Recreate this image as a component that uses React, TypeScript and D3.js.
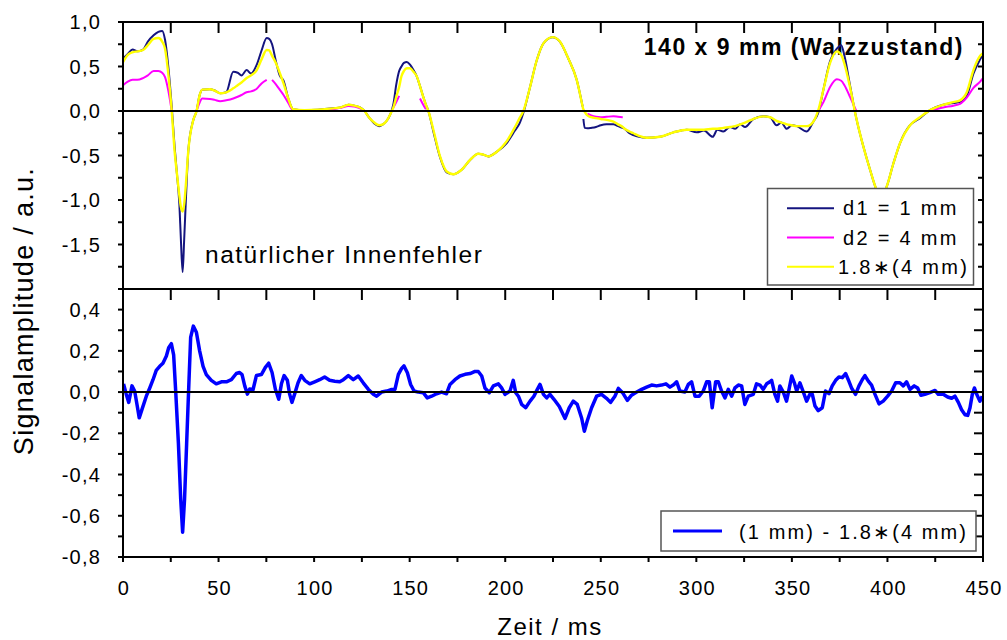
import React from 'react';
import * as d3 from 'd3';

// ---------- data ----------
const TOP_T = [
  0, 2.5, 5, 7.5, 10.5, 13, 16, 18.5, 20.5, 22,
  23.7, 25.5, 27, 28.2, 29.5, 30.3, 31.2, 32, 33, 34.2,
  36.8, 38.5, 40, 41.5, 45.5, 48, 50.8, 54, 57.7, 60,
  62, 64.7, 67, 70, 72.5, 75.2, 76.5, 78, 80, 82,
  84, 86.5, 89, 95, 102, 110, 114, 118, 121, 124,
  126, 129, 131.5, 134, 136, 138, 140, 141.5, 143, 144.5,
  145.7, 147, 148.5, 150.2, 152, 153.7, 155.4, 157.1, 158.5, 159.8,
  162.4, 165.9, 169.4, 172.8, 177.2, 181.6, 185.9, 188.5, 191.2, 195.5,
  200.8, 205.1, 207.5, 209.5, 213, 216.5, 220, 224.8, 228.6, 233,
  237.4, 240.5, 240.7, 240.9, 241.6, 243, 245, 247.5, 250, 253,
  256.6, 259, 261.5, 262.5, 265, 267, 270, 274, 281, 288,
  295, 300.2, 304, 308.6, 311, 314.1, 317.6, 320.3, 323, 325.5,
  329.8, 335, 338.6, 342, 344.5, 347.3, 350, 352.5, 357.8, 361.2,
  363.8, 366.5, 370, 373.5, 375.8, 377.5, 380.4, 383.7, 387.4, 390.9,
  394.4, 397, 399.6, 403.1, 406.6, 411.8, 417, 422.3, 429.2, 434.5,
  438, 441.5, 445, 448.5, 450,
];

// d1 = 1 mm
const D1_1MM: (number | null)[] = [
  0.59, 0.64, 0.69, 0.67, 0.69, 0.78, 0.85, 0.89, 0.90, 0.80,
  0.50, 0.05, -0.40, -0.70, -1.05, -1.45, -1.81, -1.45, -0.95, -0.44,
  -0.10, 0.0, 0.17, 0.24, 0.245, 0.23, 0.20, 0.21, 0.44, 0.43,
  0.40, 0.46, 0.42, 0.52, 0.68, 0.82, 0.81, 0.75, 0.56, 0.40,
  0.34, 0.14, 0.02, 0.01, 0.015, 0.03, 0.04, 0.07, 0.06, 0.04,
  0.01, -0.08, -0.14, -0.17, -0.15, -0.11, -0.03, 0.08, 0.30, 0.45,
  0.50, 0.54, 0.55, 0.52, 0.46, 0.39, 0.28, 0.16, 0.07, 0.0,
  -0.23, -0.52, -0.69, -0.71, -0.66, -0.55, -0.48, -0.49, -0.51, -0.46,
  -0.36, -0.22, -0.14, -0.02, 0.27, 0.57, 0.76, 0.83, 0.78, 0.59,
  0.35, 0.05, null, -0.09, -0.19, -0.195, -0.19, -0.18, -0.16, -0.15,
  -0.15, -0.17, -0.19, -0.20, -0.25, -0.27, -0.29, -0.30, -0.29, -0.24,
  -0.21, -0.24, -0.22, -0.29, -0.21, -0.23, -0.18, -0.20, -0.15, -0.18,
  -0.09, -0.06, -0.07, -0.16, -0.13, -0.20, -0.16, -0.17, -0.23, -0.12,
  -0.02, 0.24, 0.56, 0.70, 0.74, 0.62, 0.29, -0.08, -0.40, -0.66,
  -0.89, -0.97, -0.85, -0.59, -0.36, -0.16, -0.08, 0.01, 0.07, 0.09,
  0.10, 0.17, 0.42, 0.58, 0.64,
];

// d2 = 4 mm (only the visible stretches)
const D2_4MM: (number | null)[] = [
  0.29, 0.33, 0.35, 0.35, 0.37, 0.40, 0.45, 0.45, 0.43, 0.38,
  0.23, 0.0, null, null, null, null, null, null, null, null,
  null, 0.0, 0.09, 0.14, 0.135, 0.125, 0.11, 0.12, 0.14, 0.16,
  0.18, 0.21, 0.22, 0.25, 0.31, 0.35, null, 0.35, 0.30, 0.24,
  0.18, 0.09, 0.01, 0.005, 0.01, 0.02, 0.035, 0.055, 0.05, 0.03,
  0.005, null, null, null, null, null, null, 0.04, 0.10, 0.17,
  null, null, null, null, null, null, 0.14, 0.07, 0.02, null,
  null, null, null, null, null, null, null, null, null, null,
  null, null, null, null, null, null, null, null, null, null,
  null, null, null, null, null, -0.03, -0.05, -0.065, -0.07, -0.065,
  -0.06, -0.065, -0.07, null, null, null, null, null, null, null,
  null, null, null, null, null, null, null, null, null, null,
  null, null, null, null, null, null, null, null, null, null,
  0.0, 0.10, 0.27, 0.356, 0.34, 0.29, 0.16, 0.0, null, null,
  null, null, null, null, null, null, null, 0.0, 0.04, 0.06,
  0.08, 0.15, 0.26, 0.33, 0.37,
];

// 1.8*(4 mm)
const D2_SCALED: (number | null)[] = [
  0.55, 0.63, 0.66, 0.67, 0.685, 0.74, 0.81, 0.82, 0.78, 0.70,
  0.42, 0.0, -0.45, -0.70, -0.95, -1.08, -1.13, -1.05, -0.80, -0.44,
  -0.10, 0.0, 0.17, 0.24, 0.245, 0.23, 0.20, 0.21, 0.255, 0.29,
  0.32, 0.37, 0.40, 0.46, 0.58, 0.685, 0.68, 0.62, 0.54, 0.43,
  0.31, 0.14, 0.02, 0.01, 0.015, 0.03, 0.04, 0.07, 0.06, 0.04,
  0.01, -0.08, -0.13, -0.16, -0.15, -0.11, -0.03, 0.04, 0.16, 0.27,
  0.39, 0.45, 0.48, 0.48, 0.44, 0.39, 0.28, 0.16, 0.07, 0.0,
  -0.21, -0.51, -0.68, -0.71, -0.66, -0.55, -0.48, -0.49, -0.51, -0.46,
  -0.34, -0.18, -0.08, 0.0, 0.27, 0.57, 0.76, 0.83, 0.78, 0.59,
  0.35, 0.05, 0.03, 0.02, -0.01, -0.05, -0.07, -0.08, -0.09, -0.10,
  -0.12, -0.15, -0.18, -0.20, -0.23, -0.25, -0.28, -0.30, -0.29, -0.24,
  -0.21, -0.21, -0.21, -0.20, -0.20, -0.19, -0.18, -0.17, -0.15, -0.13,
  -0.09, -0.06, -0.07, -0.11, -0.13, -0.15, -0.16, -0.17, -0.17, -0.12,
  0.01, 0.24, 0.54, 0.67, 0.63, 0.53, 0.27, -0.08, -0.40, -0.66,
  -0.89, -0.97, -0.85, -0.59, -0.36, -0.16, -0.07, 0.01, 0.07, 0.10,
  0.12, 0.21, 0.46, 0.62, 0.65,
];

// (1 mm) - 1.8*(4 mm)
const DIFF_T = [
  0.3, 1.7, 3.0, 4.7, 6.1, 7.5, 8.5, 9.9, 12.2, 14,
  15.7, 17.4, 19.2, 20.9, 22.7, 23.9, 25.3, 26.5, 27.6, 29,
  30.2, 31.2, 32.2, 33.3, 34.3, 35.4, 36.8, 38.4, 40.1, 41.9,
  43.6, 46.2, 48.8, 51.5, 54.1, 56.7, 59.3, 61, 62.3, 63.7,
  65.1, 66.3, 68, 69.8, 72.4, 74.5, 76.2, 78, 79.7, 81.5,
  82.9, 84.3, 86, 87.2, 88.4, 89.8, 91.6, 93.3, 95.1, 97.7,
  100.3, 102.9, 105.5, 108.1, 110.8, 113.4, 115.3, 117.9, 120.5, 123.1,
  125.7, 128.4, 131, 132.7, 135.3, 138, 140.6, 142.3, 144.1, 145.8,
  147, 148.8, 150.5, 152.3, 154.5, 157.1, 159.2, 161.5, 164.1, 166.7,
  169.3, 171.1, 173.7, 176.3, 179, 181.6, 184.2, 185.9, 187.7, 189.4,
  191.7, 193.8, 196.4, 198.1, 199.9, 202.5, 204.2, 205.5, 206.9, 208.6,
  210.7, 213, 215, 216.8, 218.2, 220, 221.7, 223.4, 225.5, 228.3,
  231.3, 233.5, 235.6, 237.7, 240, 241.4, 242.9, 245.2, 247.8, 250.4,
  253, 255.1, 257.4, 259.2, 261.4, 263.9, 266.1, 268.8, 271.4, 274,
  276.6, 279.2, 281.8, 284.1, 286.2, 288.3, 289.7, 291.4, 294, 295.8,
  297.5, 299.3, 301.5, 303.6, 305.4, 306.8, 308.3, 310.1, 311.5, 313.2,
  315, 316.7, 318.5, 320.2, 322, 323.7, 325.4, 327.2, 329.8, 331.5,
  333.3, 335, 336.8, 338.5, 339.4, 341.1, 342.5, 343.7, 345.5, 347.2,
  348.5, 349.9, 351.3, 352.5, 354.2, 356, 357.7, 359.4, 360.7, 362.1,
  363.8, 365.9, 367.6, 369.4, 371.1, 372.9, 374.6, 376.4, 378.1, 379.5,
  381.2, 383.3, 385.1, 386.8, 388.2, 390, 391.7, 393.5, 395.6, 397.8,
  400.1, 402.2, 404.3, 406.5, 408.3, 410, 411.8, 414, 415.8, 417.5,
  419.6, 422.2, 424.9, 426.6, 429.2, 431.5, 433.6, 435.3, 437.1, 438.8,
  440.6, 442, 443.2, 444.4, 445.5, 446.7, 448.4, 449.6,
];
const DIFF_V = [
  0.04, -0.01, -0.05, 0.03, 0.005, -0.07, -0.125, -0.085, -0.02, 0.02,
  0.06, 0.105, 0.125, 0.14, 0.175, 0.215, 0.235, 0.18, 0.0, -0.25,
  -0.52, -0.68, -0.52, -0.25, 0.0, 0.265, 0.32, 0.29, 0.20, 0.125,
  0.085, 0.057, 0.04, 0.05, 0.05, 0.06, 0.09, 0.095, 0.085, 0.03,
  -0.01, 0.015, 0.01, 0.08, 0.085, 0.12, 0.14, 0.095, 0.015, -0.035,
  0.04, 0.08, 0.057, -0.01, -0.05, -0.01, 0.045, 0.08, 0.057, 0.04,
  0.05, 0.06, 0.073, 0.057, 0.053, 0.05, 0.06, 0.08, 0.06, 0.078,
  0.045, 0.013, -0.011, -0.02, 0.0, 0.005, 0.013, 0.013, 0.086, 0.115,
  0.127, 0.094, 0.037, 0.005, 0.0, -0.003, -0.028, -0.02, -0.008, 0.0,
  -0.008, 0.037, 0.06, 0.078, 0.086, 0.09, 0.1, 0.1, 0.078, 0.02,
  -0.003, 0.03, 0.04, 0.02, -0.011, 0.005, 0.057, -0.003, -0.02, -0.06,
  -0.076, -0.044, -0.02, 0.013, 0.037, -0.011, -0.028, -0.011, -0.035, -0.07,
  -0.128, -0.076, -0.044, -0.06, -0.127, -0.19, -0.14, -0.076, -0.02, -0.011,
  -0.03, -0.05, -0.02, 0.018, -0.003, -0.04, -0.015, 0.0, 0.013, 0.024,
  0.034, 0.03, 0.034, 0.04, 0.024, 0.037, 0.05, 0.005, 0.0, 0.037,
  0.05, -0.02, -0.02, 0.005, 0.05, 0.05, -0.076, 0.05, 0.05, 0.005,
  -0.028, 0.013, -0.02, 0.02, 0.034, 0.03, -0.06, -0.02, -0.011, 0.04,
  0.034, 0.013, 0.04, 0.05, 0.057, -0.011, -0.044, 0.03, 0.0, -0.044,
  0.013, 0.078, 0.045, 0.005, 0.045, 0.0, -0.044, -0.011, -0.011, -0.068,
  -0.09, -0.076, 0.005, -0.008, 0.03, 0.057, 0.073, 0.07, 0.09, 0.06,
  0.02, -0.011, 0.03, 0.06, 0.08, 0.053, 0.034, -0.011, -0.057, -0.044,
  -0.02, 0.005, 0.045, 0.045, 0.03, 0.05, 0.013, 0.03, 0.02, -0.015,
  -0.011, -0.003, 0.008, -0.011, -0.011, -0.024, -0.03, -0.02, -0.05, -0.086,
  -0.11, -0.113, -0.076, -0.011, 0.02, -0.011, -0.044, -0.02,
];

const X_TICKS = [0, 50, 100, 150, 200, 250, 300, 350, 400, 450];
const TOP_Y_TICKS = [1.0, 0.5, 0.0, -0.5, -1.0, -1.5];
const BOT_Y_TICKS = [0.4, 0.2, 0.0, -0.2, -0.4, -0.6, -0.8];
const TOP_LEGEND = ['d1 = 1 mm', 'd2 = 4 mm', '1.8\u2217(4 mm)'];
const BOT_LEGEND = '(1 mm) - 1.8\u2217(4 mm)';
const TITLE = '140 x 9 mm (Walzzustand)';
const ANNOTATION = 'natürlicher Innenfehler';
const X_LABEL = 'Zeit / ms';
const Y_LABEL = 'Signalamplitude / a.u.';

const C_D1 = '#14147f';
const C_D2 = '#ff00ff';
const C_D18 = '#ffff00';
const C_DIFF = '#0000ff';
const FONT = "'Liberation Sans', Arial, Helvetica, sans-serif";

const fmt = (v: number) => v.toFixed(1).replace('.', ',').replace('-0,0', '0,0');

export default function App() {
  const L = 123, R = 983, T1 = 22, MID = 289, B2 = 557;
  const x = d3.scaleLinear().domain([0, 450]).range([L, R]);
  const yT = d3.scaleLinear().domain([-2, 1]).range([MID, T1]);
  const yB = d3.scaleLinear().domain([-0.8, 0.5]).range([B2, MID]);

  const topLine = (vals: (number | null)[]) =>
    d3.line<number>()
      .defined((_, i) => vals[i] != null)
      .x((_, i) => x(TOP_T[i]))
      .y((_, i) => yT(vals[i] as number))
      .curve(d3.curveMonotoneX)(TOP_T) || '';

  const diffLine = d3.line<number>()
    .x((_, i) => x(DIFF_T[i]))
    .y((_, i) => yB(DIFF_V[i]))
    .curve(d3.curveLinear)(DIFF_T) || '';

  const xMinor = d3.range(0, 451, 25);
  const topMinor = d3.range(-2, 1.0001, 0.25);
  const botMinor = d3.range(-8, 6, 1).map((k) => k / 10);

  const tickLabelStyle: React.CSSProperties = { fontFamily: FONT, fontSize: 20, letterSpacing: 1.2 };

  return (
    <svg width={1007} height={640} style={{ position: 'absolute', left: 0, top: 0, background: '#fff' }}>
      <defs>
        <clipPath id="clipTop"><rect x={L} y={T1} width={R - L} height={MID - T1} /></clipPath>
        <clipPath id="clipBot"><rect x={L} y={MID} width={R - L} height={B2 - MID} /></clipPath>
      </defs>
      <rect x={0} y={0} width={1007} height={640} fill="#fff" />

      {/* title & annotation */}
      <text x={964} y={55} textAnchor="end" style={{ fontFamily: FONT, fontSize: 23, fontWeight: 'bold', letterSpacing: 1.5 }}>{TITLE}</text>
      <text x={205} y={263} style={{ fontFamily: FONT, fontSize: 24.5, letterSpacing: 1.5 }}>{ANNOTATION}</text>

      {/* top curves */}
      <g clipPath="url(#clipTop)" fill="none" strokeLinejoin="round">
        <path d={topLine(D1_1MM)} stroke={C_D1} strokeWidth={2} />
        <path d={topLine(D2_4MM)} stroke={C_D2} strokeWidth={2} />
        <path d={topLine(D2_SCALED)} stroke={C_D18} strokeWidth={2.4} />
      </g>
      {/* bottom curve */}
      <g clipPath="url(#clipBot)" fill="none">
        <path d={diffLine} stroke={C_DIFF} strokeWidth={3.5} strokeLinejoin="round" />
      </g>

      {/* zero lines */}
      <line x1={L} x2={R} y1={yT(0)} y2={yT(0)} stroke="#000" strokeWidth={2} />
      <line x1={L} x2={R} y1={yB(0)} y2={yB(0)} stroke="#000" strokeWidth={2} />

      {/* frames */}
      <rect x={L} y={T1} width={R - L} height={MID - T1} fill="none" stroke="#000" strokeWidth={2} />
      <rect x={L} y={MID} width={R - L} height={B2 - MID} fill="none" stroke="#000" strokeWidth={2} />

      {/* ticks */}
      <g stroke="#000" strokeWidth={2}>
        {topMinor.map((v, i) => (
          <g key={'tm' + i}>
            <line x1={L - 5} x2={L} y1={yT(v)} y2={yT(v)} />
            <line x1={R - 5} x2={R} y1={yT(v)} y2={yT(v)} />
          </g>
        ))}
        {botMinor.map((v, i) => (
          <g key={'bm' + i}>
            <line x1={L - 5} x2={L} y1={yB(v)} y2={yB(v)} />
            <line x1={R - 9} x2={R} y1={yB(v)} y2={yB(v)} />
          </g>
        ))}
        {xMinor.map((t, i) => (
          <g key={'xm' + i}>
            <line x1={x(t)} x2={x(t)} y1={T1} y2={T1 + 11} />
            <line x1={x(t)} x2={x(t)} y1={MID} y2={MID + 11} />
            <line x1={x(t)} x2={x(t)} y1={B2} y2={B2 + 5} />
          </g>
        ))}
      </g>

      {/* tick labels */}
      {TOP_Y_TICKS.map((v) => (
        <text key={'ty' + v} x={101} y={yT(v) + 7} textAnchor="end" style={tickLabelStyle}>{fmt(v)}</text>
      ))}
      {BOT_Y_TICKS.map((v) => (
        <text key={'by' + v} x={101} y={yB(v) + 7} textAnchor="end" style={tickLabelStyle}>{fmt(v)}</text>
      ))}
      {X_TICKS.map((t) => (
        <text key={'xt' + t} x={x(t) + 1} y={595} textAnchor="middle" style={tickLabelStyle}>{String(t)}</text>
      ))}

      {/* axis labels */}
      <text x={550} y={635} textAnchor="middle" style={{ fontFamily: FONT, fontSize: 24, letterSpacing: 1.5 }}>{X_LABEL}</text>
      <text x={33} y={311} textAnchor="middle" transform="rotate(-90 33 311)" style={{ fontFamily: FONT, fontSize: 27, letterSpacing: 1.3 }}>{Y_LABEL}</text>

      {/* top legend */}
      <g>
        <rect x={767.5} y={188.5} width={206} height={96.5} fill="#fff" stroke="#555" strokeWidth={1.5} />
        {TOP_LEGEND.map((lab, i) => {
          const cy = 208.3 + i * 29.2;
          const col = [C_D1, C_D2, C_D18][i];
          return (
            <g key={'lg' + i}>
              <line x1={787} x2={834} y1={cy} y2={cy} stroke={col} strokeWidth={2} />
              <text x={i === 2 ? 838 : 843} y={cy + 7} style={{ fontFamily: FONT, fontSize: 20, letterSpacing: 2.3 }}>{lab}</text>
            </g>
          );
        })}
      </g>

      {/* bottom legend */}
      <g>
        <rect x={661} y={511} width={315} height={40} fill="#fff" stroke="#555" strokeWidth={1.5} />
        <line x1={673} x2={722} y1={531} y2={531} stroke={C_DIFF} strokeWidth={3} />
        <text x={739} y={539} style={{ fontFamily: FONT, fontSize: 20, letterSpacing: 2.1 }}>{BOT_LEGEND}</text>
      </g>
    </svg>
  );
}
